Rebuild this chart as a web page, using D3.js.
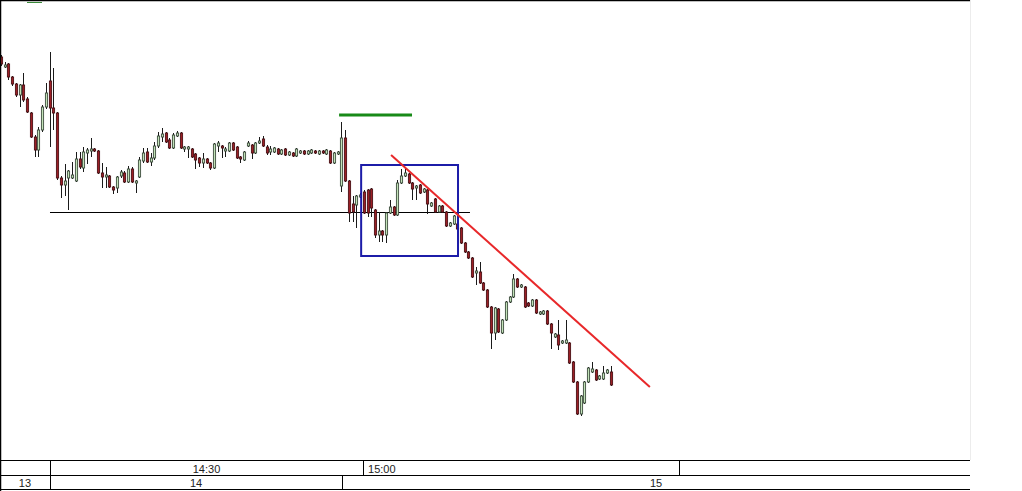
<!DOCTYPE html>
<html><head><meta charset="utf-8">
<script src="https://cdn.jsdelivr.net/npm/d3@7"></script>
<style>html,body{margin:0;padding:0;background:#fff;overflow:hidden}svg{display:block}</style>
</head><body><svg id="c" width="1022" height="491"></svg>
<script>
// ---- data (candle prices) ----
const open = [44.3,43.3,43.6,42.3,41.6,40.5,41.5,40.1,38.7,36.3,35.0,37.0,39.3,41.9,39.2,38.7,32.2,31.5,32.2,32.2,
31.9,34.1,33.2,34.7,34.9,35.1,34.9,32.7,32.3,32.4,31.3,31.2,32.4,32.7,31.8,33.1,31.7,32.3,33.9,34.8,
33.8,34.2,35.4,36.3,36.7,36.0,35.2,36.4,36.7,35.1,35.1,35.1,34.6,34.2,33.7,34.1,33.7,33.2,35.4,35.4,
34.9,34.9,35.7,35.3,34.3,34.0,35.4,35.5,34.7,35.7,36.1,35.3,34.8,34.8,35.1,34.6,35.1,34.5,34.7,34.4,
34.7,34.9,34.6,34.7,34.9,34.6,34.9,34.6,34.9,33.7,34.6,31.4,36.2,31.9,29.6,29.5,30.3,30.8,31.0,31.1,
29.0,26.5,26.9,26.5,28.7,29.3,28.5,31.7,32.4,32.6,31.7,31.2,31.5,30.8,31.0,29.4,30.1,28.8,29.4,28.8,
27.4,27.6,27.6,27.2,25.7,24.8,24.2,22.7,22.8,21.7,21.0,19.3,16.7,19.1,16.7,18.0,19.8,20.3,22.1,21.3,
21.3,19.7,19.4,20.0,18.6,18.6,18.9,17.6,16.3,16.5,15.7,15.7,15.7,13.8,11.8,8.6,9.7,11.8,12.8,13.0,
12.1,12.1,12.7,12.8];
const high = [44.5,43.8,43.7,42.4,41.7,41.6,42.7,40.3,38.8,36.5,37.3,39.5,41.7,44.8,43.2,38.8,32.4,33.6,33.0,33.8,
34.8,34.8,35.3,35.2,36.2,35.2,35.0,33.7,33.3,32.5,31.4,32.4,33.0,32.9,33.4,33.3,32.0,34.3,35.2,35.2,
34.7,35.8,36.8,37.2,36.8,36.2,36.7,36.9,36.8,35.4,35.4,35.2,34.7,34.3,34.7,34.2,33.8,35.7,35.9,35.5,
35.3,35.8,35.8,35.4,34.4,34.9,35.9,35.6,35.8,36.3,36.4,35.5,35.4,35.3,35.2,35.1,35.2,34.9,34.8,35.2,
35.0,35.0,35.0,35.1,35.0,35.0,35.0,35.1,35.0,34.8,34.9,37.8,37.0,32.0,30.4,30.5,30.7,31.0,31.1,31.2,
29.1,28.8,27.0,28.8,30.0,29.4,32.0,33.1,33.1,32.7,31.8,31.5,31.6,31.2,31.1,29.8,30.2,29.5,29.5,28.9,
27.8,28.5,27.8,27.3,25.8,24.9,24.3,23.3,23.8,21.8,21.1,19.4,19.3,19.2,18.1,19.9,20.4,22.6,22.2,21.6,
21.4,19.8,20.1,20.1,18.9,19.0,19.0,17.7,16.7,18.0,16.0,18.0,15.8,13.9,11.9,10.5,11.9,13.3,13.8,13.1,
12.5,13.4,13.1,13.4];
const low = [43.4,43.2,42.0,41.4,40.3,39.3,39.8,38.7,36.2,34.3,34.3,36.8,39.1,35.3,37.0,32.0,30.2,30.4,29.0,32.1,
31.8,33.1,32.8,33.6,34.3,34.8,32.6,31.2,31.2,31.2,30.6,30.7,32.2,31.7,31.7,31.7,30.7,32.2,33.7,33.7,
33.4,34.0,35.2,35.8,35.7,35.1,35.1,36.3,35.1,34.8,34.2,34.2,33.1,33.3,33.2,33.6,33.0,33.1,34.8,34.2,
34.3,34.8,34.9,34.1,33.7,33.9,35.3,34.1,34.6,35.6,35.3,34.5,34.5,34.7,34.5,34.5,34.4,34.4,34.3,34.3,
34.6,34.5,34.5,34.6,34.6,34.5,34.6,34.5,33.6,33.6,34.5,30.8,31.8,27.8,27.8,27.2,30.2,28.6,28.3,28.3,
26.2,25.8,25.8,25.7,28.6,28.4,28.4,31.6,32.3,31.6,30.0,30.0,30.6,30.7,28.6,29.3,28.7,28.7,28.7,27.3,
27.3,27.5,27.0,25.6,24.7,24.1,22.2,21.5,21.6,20.9,19.2,15.1,16.0,16.7,16.6,17.9,19.7,20.2,21.2,21.2,
19.2,19.3,19.3,18.6,18.5,18.5,17.5,15.1,16.2,15.0,15.6,15.6,13.6,11.7,8.5,8.4,9.6,11.7,12.7,11.9,
12.0,12.0,12.6,11.4];
const close = [43.6,43.5,42.3,41.6,40.5,41.5,40.0,38.8,36.3,35.0,37.0,39.3,40.7,39.2,38.7,32.2,31.5,31.9,32.9,32.5,
34.1,33.3,34.8,35.0,35.1,34.9,32.7,32.3,32.5,31.3,31.0,32.3,32.8,31.8,33.1,31.8,31.9,34.0,34.7,33.8,
34.2,35.4,36.4,36.6,35.8,35.2,36.5,36.7,35.2,35.3,35.3,34.3,34.0,33.7,34.1,33.7,33.2,35.6,35.7,35.2,
35.1,35.7,35.0,34.2,34.1,34.8,35.7,34.7,35.7,35.9,35.4,34.7,35.1,35.2,34.6,35.0,34.5,34.8,34.4,35.1,
34.9,34.6,34.9,35.0,34.7,34.9,34.7,35.0,33.7,34.7,34.8,36.2,31.9,28.7,28.8,30.4,30.5,28.7,28.7,29.2,
26.5,26.9,26.5,28.7,29.3,28.5,31.7,32.4,32.7,31.7,31.1,31.4,30.7,31.1,29.6,29.7,28.8,29.4,28.8,27.4,
27.7,28.4,27.1,25.7,24.8,24.2,22.3,22.9,21.7,21.0,19.3,16.7,19.2,16.8,18.0,19.8,20.3,22.1,21.3,21.5,
19.3,19.4,20.0,18.7,18.8,18.9,17.6,16.7,16.6,15.5,15.9,16.0,13.7,11.8,8.6,10.4,11.8,13.2,13.1,12.0,
12.4,12.7,13.0,11.5];

// annotations (index / price units)
const supportLine = {i0: 13.1, i1: 125.4, price: 28.8};
const resistanceLine = {i0: 90.4, i1: 109.9, price: 38.5};
const trendLine = {i0: 104.3, p0: 34.5, i1: 173.5, p1: 11.3};
const boxZone = {i0: 96.3, i1: 122.2, pTop: 33.5, pBottom: 24.4};

// time axis rows: boundaries in bar-index units
const timeRowLabels = ["", "14:30", "15:00", ""];
const timeRowBounds = [-0.27, 13.1, 96.8, 181.3, 259.1];
const hourRowLabels = ["13", "14", "15"];
const hourRowBounds = [-0.27, 13.1, 91.2, 259.1];

// ---- drawing ----
const svg = d3.select("#c");
const N = open.length;
const x = d3.scaleLinear().domain([0, N - 1]).range([1, 610.6]);
const y = d3.scaleLinear().domain([50, 4]).range([0, 460]);
const plotRight = 970;

const bars = d3.range(N).map(i => ({i, o: open[i], h: high[i], l: low[i], c: close[i]}));

// faint right boundary
svg.append("line").attr("x1", plotRight + 0.5).attr("x2", plotRight + 0.5).attr("y1", 0).attr("y2", 460)
  .attr("stroke", "#ececec").attr("stroke-width", 1);

// support line
svg.append("line")
  .attr("x1", x(supportLine.i0)).attr("x2", x(supportLine.i1))
  .attr("y1", Math.round(y(supportLine.price)) + 0.5).attr("y2", Math.round(y(supportLine.price)) + 0.5)
  .attr("stroke", "#000").attr("stroke-width", 1);

// candles
const g = svg.append("g");
const cx = d => Math.round(x(d.i));
g.selectAll("line.wick").data(bars).join("line").attr("class", "wick")
  .attr("x1", d => cx(d) + 0.5).attr("x2", d => cx(d) + 0.5)
  .attr("y1", d => y(d.h)).attr("y2", d => y(d.l))
  .attr("stroke", "#1a1a1a").attr("stroke-width", 1);
g.selectAll("rect.body").data(bars).join("rect").attr("class", "body")
  .attr("x", d => cx(d) - 0.6)
  .attr("width", 2.2)
  .attr("y", d => y(Math.max(d.o, d.c)))
  .attr("height", d => Math.max(1, y(Math.min(d.o, d.c)) - y(Math.max(d.o, d.c))))
  .attr("fill", d => d.c >= d.o ? "#c2e2b8" : "#9b1f26")
  .attr("stroke", d => d.c >= d.o ? "#3c4c3c" : "#4a1014")
  .attr("stroke-width", 0.9);

// resistance (green)
svg.append("line")
  .attr("x1", x(resistanceLine.i0)).attr("x2", x(resistanceLine.i1))
  .attr("y1", y(resistanceLine.price)).attr("y2", y(resistanceLine.price))
  .attr("stroke", "#188a18").attr("stroke-width", 3);

// blue box
svg.append("rect")
  .attr("x", x(boxZone.i0)).attr("y", y(boxZone.pTop))
  .attr("width", x(boxZone.i1) - x(boxZone.i0)).attr("height", y(boxZone.pBottom) - y(boxZone.pTop))
  .attr("fill", "none").attr("stroke", "#1c1ca8").attr("stroke-width", 2);

// trend line (red)
svg.append("line")
  .attr("x1", x(trendLine.i0)).attr("y1", y(trendLine.p0))
  .attr("x2", x(trendLine.i1)).attr("y2", y(trendLine.p1))
  .attr("stroke", "#e8282a").attr("stroke-width", 2);

// legend stub at top-left
svg.append("line").attr("x1", 27).attr("x2", 42).attr("y1", 2.5).attr("y2", 2.5)
  .attr("stroke", "#3a8a3a").attr("stroke-width", 1);

// frame
svg.append("line").attr("x1", 0).attr("x2", plotRight).attr("y1", 0.5).attr("y2", 0.5).attr("stroke", "#000").attr("stroke-width", 1.5);
svg.append("line").attr("x1", 0.5).attr("x2", 0.5).attr("y1", 0).attr("y2", 491).attr("stroke", "#000").attr("stroke-width", 1.5);

// axis rows
const rowY = [460.5, 475.5, 489.5];
rowY.forEach(yy => svg.append("line").attr("x1", 0).attr("x2", plotRight).attr("y1", yy).attr("y2", yy)
  .attr("stroke", "#000").attr("stroke-width", 1));

function drawRow(labels, bounds, y0, y1, anchors) {
  const row = svg.append("g");
  bounds.slice(1, -1).forEach(b => row.append("line")
    .attr("x1", Math.round(x(b)) + 0.5).attr("x2", Math.round(x(b)) + 0.5)
    .attr("y1", y0).attr("y2", y1).attr("stroke", "#000").attr("stroke-width", 1));
  labels.forEach((t, k) => {
    if (!t) return;
    const a = x(bounds[k]), b = x(bounds[k + 1]);
    const left = anchors && anchors[k] === "start";
    row.append("text")
      .attr("x", left ? a + 5 : (a + b) / 2)
      .attr("y", y1 - 3)
      .attr("text-anchor", left ? "start" : "middle")
      .attr("font-family", "'Liberation Sans', Arial, sans-serif")
      .attr("font-size", 11).attr("fill", "#222").text(t);
  });
}
drawRow(timeRowLabels, timeRowBounds, rowY[0], rowY[1], ["middle", "middle", "start", "middle"]);
drawRow(hourRowLabels, hourRowBounds, rowY[1], rowY[2]);
</script></body></html>
